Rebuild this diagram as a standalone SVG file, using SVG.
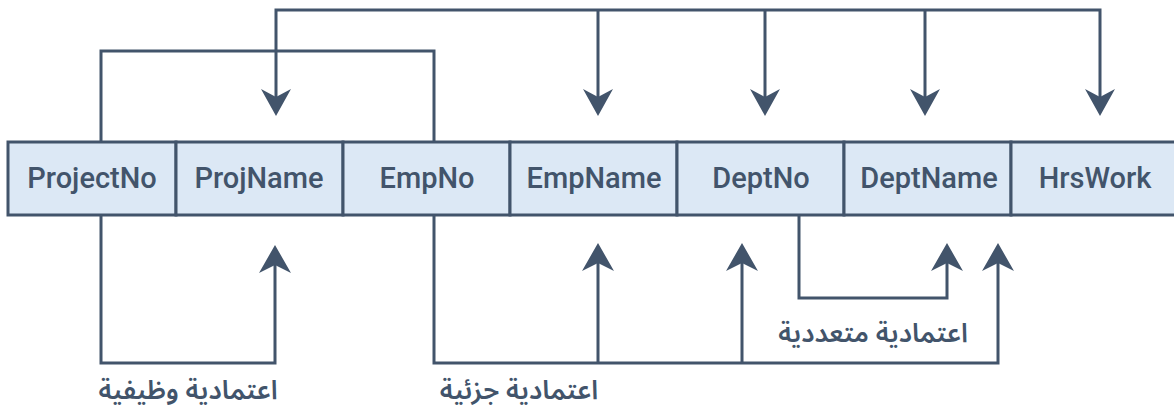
<svg xmlns="http://www.w3.org/2000/svg" width="1174" height="418" viewBox="0 0 1174 418">
<style>
.cell{fill:#dce8f5;stroke:#42546b;stroke-width:3}
.lbl{font-family:Roboto,"Noto Sans",sans-serif;font-weight:500;font-size:29px;fill:#42546b;text-anchor:middle}
.ar{font-family:"Noto Sans Arabic","DejaVu Sans",sans-serif;font-weight:600;font-size:26.5px;fill:#42546b;text-anchor:middle}
.ln{fill:none;stroke:#42546b;stroke-width:3;stroke-linejoin:miter}
.ah{fill:#42546b}
</style>
<defs>
<path id="ahd" class="ah" d="M0,0 L-15,-27 L0,-19 L15,-27 Z"/>
<path id="ahu" class="ah" d="M0,0 L-16,28 L0,20 L16,28 Z"/>
</defs>
<g id="nodes">
<g id="n-projectno"><rect class="cell" x="8" y="142" width="168" height="73"/><text class="lbl" x="92" y="188">ProjectNo</text></g>
<g id="n-projname"><rect class="cell" x="176" y="142" width="167" height="73"/><text class="lbl" x="259" y="188">ProjName</text></g>
<g id="n-empno"><rect class="cell" x="343" y="142" width="167" height="73"/><text class="lbl" x="427" y="188">EmpNo</text></g>
<g id="n-empname"><rect class="cell" x="510" y="142" width="167" height="73"/><text class="lbl" x="594" y="188">EmpName</text></g>
<g id="n-deptno"><rect class="cell" x="677" y="142" width="167" height="73"/><text class="lbl" x="761" y="188">DeptNo</text></g>
<g id="n-deptname"><rect class="cell" x="844" y="142" width="167" height="73"/><text class="lbl" x="929" y="188">DeptName</text></g>
<g id="n-hrswork"><rect class="cell" x="1011" y="142" width="170" height="73"/><text class="lbl" x="1095" y="188">HrsWork</text></g>
</g>
<g id="connectors">
<path class="ln" d="M276,98 V10 H1100 V98 M598,10 V98 M765,10 V98 M925,10 V98"/>
<use href="#ahd" x="276" y="116"/>
<use href="#ahd" x="598" y="116"/>
<use href="#ahd" x="765" y="116"/>
<use href="#ahd" x="925" y="116"/>
<use href="#ahd" x="1100" y="116"/>
<path class="ln" d="M101,142 V51 H434 V142"/>
<path class="ln" d="M101,215 V363 H275 V262"/>
<use href="#ahu" x="275" y="245"/>
<path class="ln" d="M434,215 V363 H998 V262 M598,363 V262 M742,363 V262"/>
<use href="#ahu" x="598" y="243"/>
<use href="#ahu" x="742" y="243"/>
<use href="#ahu" x="998" y="243"/>
<path class="ln" d="M799,215 V298 H947 V262"/>
<use href="#ahu" x="947" y="243"/>
</g>
<g id="labels">
<text class="ar" x="188" y="399" direction="rtl">اعتمادية وظيفية</text>
<text class="ar" x="519" y="399" direction="rtl">اعتمادية جزئية</text>
<text class="ar" x="873" y="342" direction="rtl">اعتمادية متعددية</text>
</g>
</svg>
